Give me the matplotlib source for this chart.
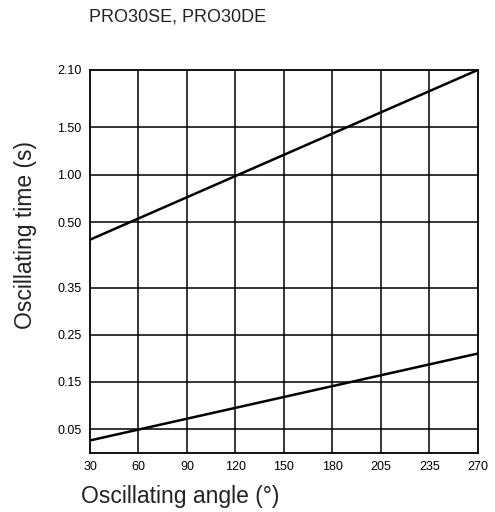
import numpy as np
import matplotlib
matplotlib.use('Agg')
import matplotlib.pyplot as plt

# angles on the x axis (unevenly spaced values, evenly spaced on paper)
angles = [30, 60, 90, 120, 150, 180, 205, 235, 270]
# time values on the y axis
times = [0.05, 0.15, 0.25, 0.35, 0.50, 1.00, 1.50, 2.10]
time_labels = ['0.05', '0.15', '0.25', '0.35', '0.50', '1.00', '1.50', '2.10']

# the two curves (angle, time)
upper_angle = [30, 270]
upper_time = [0.46, 2.10]
lower_angle = [30, 270]
lower_time = [0.026, 0.21]

# piecewise scales of the original chart
x_knots = np.array(angles, dtype=float)
x_pos = np.arange(len(angles), dtype=float)
y_knots = np.array([0.0, 0.35, 0.50, 2.10])
y_pos = np.array([0.0, 165.2, 230.4, 382.7])


def fx(v):
    return np.interp(v, x_knots, x_pos)


def ix(v):
    return np.interp(v, x_pos, x_knots)


def fy(v):
    return np.interp(v, y_knots, y_pos)


def iy(v):
    return np.interp(v, y_pos, y_knots)


plt.rcParams['font.family'] = ['Liberation Sans', 'DejaVu Sans']

fig = plt.figure(figsize=(4.95, 5.12), dpi=100)
ax = fig.add_axes([90 / 495, 1 - 452.7 / 512, (477.7 - 90) / 495, (452.7 - 70) / 512])

ax.set_xscale('function', functions=(fx, ix))
ax.set_yscale('function', functions=(fy, iy))
ax.set_xlim(30, 270)
ax.set_ylim(0, 2.10)

# grid
for a in angles[1:-1]:
    ax.axvline(a, color='k', lw=1.1)
for t in times[:-1]:
    ax.axhline(t, color='k', lw=1.1)

ax.plot(upper_angle, upper_time, color='k', lw=1.8)
ax.plot(lower_angle, lower_time, color='k', lw=1.8)

ax.set_xticks(angles)
ax.set_xticklabels([str(a) for a in angles])
ax.set_yticks(times)
ax.set_yticklabels(time_labels)
ax.xaxis.set_minor_locator(matplotlib.ticker.NullLocator())
ax.yaxis.set_minor_locator(matplotlib.ticker.NullLocator())
ax.tick_params(length=0, pad=6)
for lab in ax.get_xticklabels() + ax.get_yticklabels():
    lab.set_family(['Liberation Sans Narrow', 'Liberation Sans', 'DejaVu Sans'])
    lab.set_fontsize(9)

for s in ax.spines.values():
    s.set_linewidth(1.3)

fig.text(89 / 495, 1 - 17 / 512, 'PRO30SE, PRO30DE', fontsize=13, ha='left', va='center', color='#222222')
fig.text(26 / 495, 1 - 235 / 512, 'Oscillating time (s)', fontsize=16.5, rotation=90,
         ha='center', va='center', color='#222222')
fig.text(180 / 495, 1 - 496 / 512, 'Oscillating angle (°)', fontsize=16.5,
         ha='center', va='center', color='#222222')

fig.savefig('out.png', dpi=100)
